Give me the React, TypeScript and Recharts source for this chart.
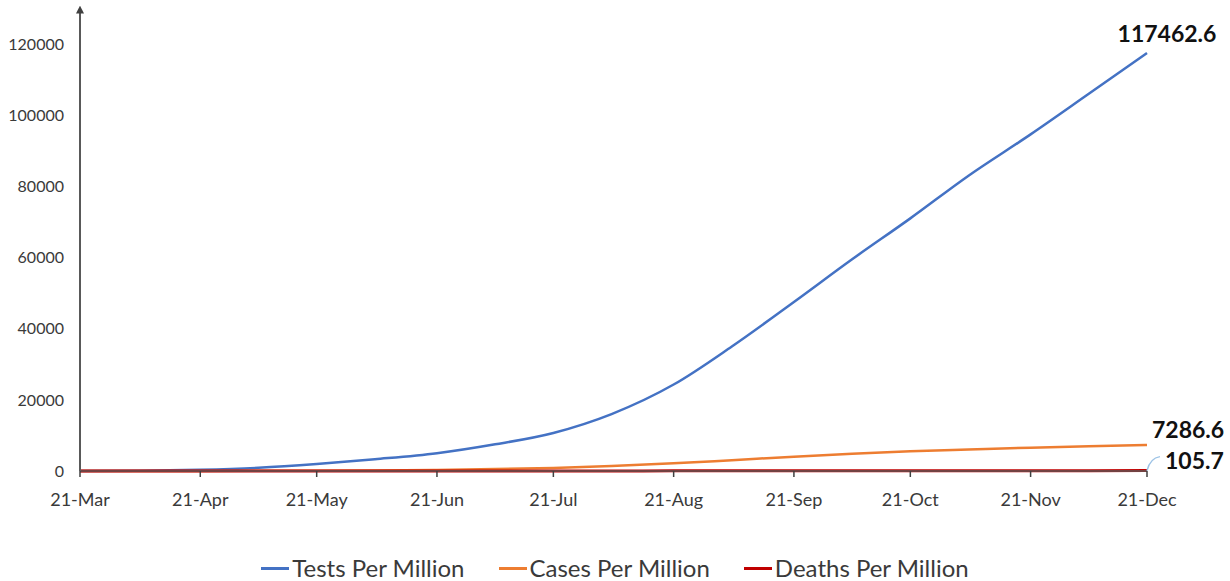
import React from 'react';
import { LineChart, Line, XAxis, YAxis, Legend } from 'recharts';

// Day offsets from 21-Mar
const days = [0, 15, 31, 46, 61, 76, 92, 107, 122, 137, 153, 168, 184, 199, 214, 229, 245, 260, 275];
const testsPerMillion = [10, 60, 330, 900, 1950, 3300, 5000, 7500, 10700, 16000, 24300, 35000, 47500, 59500, 71000, 83000, 94600, 106000, 117462.6];
const casesPerMillion = [0.3, 3, 14, 40, 85, 170, 308, 530, 860, 1400, 2150, 3050, 4030, 4850, 5540, 6050, 6560, 6950, 7286.6];
const deathsPerMillion = [0, 0.1, 0.4, 1.2, 2.6, 5, 10, 14.5, 21, 29, 41, 52, 64, 75, 84.5, 90, 95.7, 101, 105.7];

const xTicks = [0, 31, 61, 92, 122, 153, 184, 214, 245, 275];
const xTickLabels = ['21-Mar', '21-Apr', '21-May', '21-Jun', '21-Jul', '21-Aug', '21-Sep', '21-Oct', '21-Nov', '21-Dec'];
const yTicks = [0, 20000, 40000, 60000, 80000, 100000, 120000];

const seriesNames = ['Tests Per Million', 'Cases Per Million', 'Deaths Per Million'];
const seriesColors = ['#4472C4', '#ED7D31', '#C00000'];

const data = days.map((d, i) => ({
  day: d,
  tests: testsPerMillion[i],
  cases: casesPerMillion[i],
  deaths: deathsPerMillion[i],
}));

const FONT = 'Lato, "Open Sans", sans-serif';
const lastIndex = days.length - 1;

const endLabel = (kind: 'tests' | 'cases' | 'deaths') => (props: any) => {
  const { x, y, index, value } = props;
  if (index !== lastIndex) return null;
  const txt = String(value);
  const common = { fontFamily: FONT, fontWeight: 700, fontSize: 23, fill: '#111' };
  if (kind === 'tests') {
    return (
      <text x={x + 20} y={y - 20} textAnchor="middle" dominantBaseline="central" {...common}>
        {txt}
      </text>
    );
  }
  if (kind === 'cases') {
    return (
      <text x={x + 5} y={y - 16} textAnchor="start" dominantBaseline="central" {...common}>
        {txt}
      </text>
    );
  }
  return (
    <g>
      <path
        d={`M${x},${y} C${x + 2},${y - 8} ${x + 6},${y - 13} ${x + 13},${y - 14}`}
        stroke="#9DC3E6"
        strokeWidth={1.5}
        fill="none"
      />
      <text x={x + 18} y={y - 11} textAnchor="start" dominantBaseline="central" {...common}>
        {txt}
      </text>
    </g>
  );
};

const LegendContent = () => (
  <div
    style={{
      height: 70,
      display: 'flex',
      justifyContent: 'center',
      alignItems: 'flex-start',
      paddingTop: 45,
      boxSizing: 'border-box',
      gap: 34,
      fontFamily: FONT,
      fontSize: 24,
      color: '#3a3a3a',
      lineHeight: '24px',
    }}
  >
    {seriesNames.map((n, i) => (
      <div key={n} style={{ display: 'flex', alignItems: 'center' }}>
        <div style={{ width: 28, height: 3, background: seriesColors[i], marginRight: 3 }} />
        <span>{n}</span>
      </div>
    ))}
  </div>
);

export default function App() {
  return (
    <div style={{ position: 'absolute', left: 0, top: 0, background: '#fff' }}>
      <LineChart width={1230} height={581} data={data} margin={{ top: 12, right: 83, left: 0, bottom: 0 }}>
        <defs>
          <marker id="arrowUp" viewBox="0 0 10 10" refX="2" refY="5" markerWidth="4" markerHeight="4" orient="auto-start-reverse">
            <path d="M0,0 L10,5 L0,10 z" fill="#404040" />
          </marker>
        </defs>
        <XAxis
          dataKey="day"
          type="number"
          domain={[0, 275]}
          ticks={xTicks}
          tickFormatter={(v: number) => xTickLabels[xTicks.indexOf(v)] ?? ''}
          height={40}
          tickSize={6}
          tickMargin={16}
          axisLine={{ stroke: '#595959', strokeWidth: 1.5 }}
          tickLine={{ stroke: '#404040', strokeWidth: 1.5 }}
          tick={{ fontFamily: FONT, fontSize: 18, fill: '#3a3a3a' }}
          interval={0}
        />
        <YAxis
          type="number"
          domain={[0, 129000]}
          ticks={yTicks}
          width={80}
          tickSize={0}
          tickMargin={16}
          tickLine={false}
          axisLine={{ stroke: '#595959', strokeWidth: 2, markerStart: 'url(#arrowUp)' }}
          tick={{ fontFamily: FONT, fontSize: 16, fill: '#3a3a3a' }}
          interval={0}
        />
        <Legend verticalAlign="bottom" height={70} content={<LegendContent />} wrapperStyle={{ left: 0, bottom: 0, width: 1230, height: 70 }} />
        <Line
          type="monotone"
          dataKey="tests"
          name={seriesNames[0]}
          stroke={seriesColors[0]}
          strokeWidth={2.5}
          dot={false}
          isAnimationActive={false}
          label={endLabel('tests')}
        />
        <Line
          type="monotone"
          dataKey="cases"
          name={seriesNames[1]}
          stroke={seriesColors[1]}
          strokeWidth={2.5}
          dot={false}
          isAnimationActive={false}
          label={endLabel('cases')}
        />
        <Line
          type="monotone"
          dataKey="deaths"
          name={seriesNames[2]}
          stroke={seriesColors[2]}
          strokeWidth={3}
          dot={false}
          isAnimationActive={false}
          label={endLabel('deaths')}
        />
      </LineChart>
    </div>
  );
}
